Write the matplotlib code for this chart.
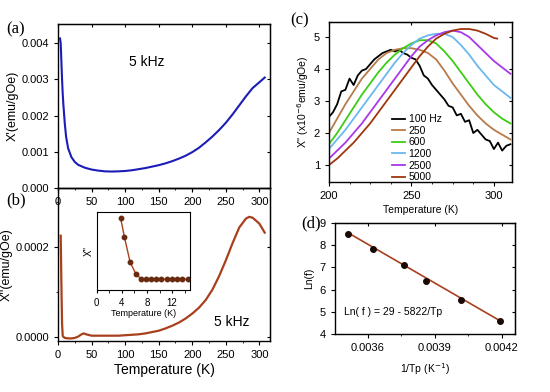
import numpy as np
import matplotlib
matplotlib.use("Agg")
import matplotlib.pyplot as plt
from matplotlib.ticker import AutoMinorLocator, FormatStrFormatter

plt.rcParams['font.family'] = ['Liberation Sans', 'DejaVu Sans']

# (a) real part, 5 kHz
temp_a = [3, 4, 5, 6, 7, 8, 10, 12, 15, 20, 25, 30, 40, 50, 60, 70, 80, 90, 100,
          110, 120, 130, 140, 150, 160, 170, 180, 190, 200, 210, 220, 230, 240,
          250, 260, 270, 280, 290, 300, 308]
chi_real = [0.00413, 0.0040, 0.0035, 0.0030, 0.0026, 0.0023, 0.0018, 0.00142, 0.00110,
            0.00085, 0.00072, 0.00064, 0.00056, 0.00051, 0.00048, 0.00046, 0.000455,
            0.00046, 0.00047, 0.00049, 0.00052, 0.00055, 0.00059, 0.00063, 0.00068,
            0.00074, 0.00081, 0.00089, 0.00099, 0.00111, 0.00126, 0.00142, 0.00160,
            0.00180, 0.00203, 0.00228, 0.00253, 0.00276, 0.00292, 0.00305]

# (b) imaginary part, 5 kHz
temp_b = [4, 5, 6, 7, 10, 15, 20, 25, 30, 35, 38, 42, 50, 60, 70, 80, 90, 100, 110,
          120, 130, 140, 150, 160, 170, 180, 190, 200, 210, 220, 230, 240, 250, 260,
          270, 280, 285, 290, 300, 308]
chi_imag = [0.000225, 0.00012, 0.00003, 0.000002, -0.000002, -0.000003, -0.000003,
            -0.000002, 0.000001, 0.000006, 0.000008, 0.000006, 0.000003, 0.000003,
            0.000003, 0.000003, 0.000003, 0.000004, 0.000005, 0.000006, 0.000008,
            0.000011, 0.000014, 0.000019, 0.000025, 0.000032, 0.000041, 0.000052,
            0.000065, 0.000082, 0.000105, 0.000135, 0.000170, 0.000208, 0.000243,
            0.000263, 0.000267, 0.000265, 0.000252, 0.000232]

# inset of (b), arbitrary units
temp_in = [3.8, 4.4, 5.3, 6.2, 7.1, 7.9, 8.7, 9.5, 10.3, 11.1, 11.9, 12.8, 13.6, 14.5]
chi_in = [0.92, 0.68, 0.36, 0.21, 0.14, 0.14, 0.14, 0.14, 0.14, 0.14, 0.14, 0.14, 0.14, 0.14]

# (c) chi'' at several frequencies
temp_c_fine = [200, 202.5, 205, 207.5, 210, 212.5, 215, 217.5, 220, 222.5, 225, 227.5,
               230, 232.5, 235, 237.5, 240, 242.5, 245, 247.5, 250, 252.5, 255, 257.5,
               260, 262.5, 265, 267.5, 270, 272.5, 275, 277.5, 280, 282.5, 285, 287.5,
               290, 292.5, 295, 297.5, 300, 302.5, 305, 307.5, 310]
chi_100 = [2.5, 2.65, 2.9, 3.3, 3.35, 3.7, 3.5, 3.8, 3.95, 4.0, 4.15, 4.3, 4.4, 4.5, 4.55,
           4.6, 4.55, 4.6, 4.5, 4.45, 4.35, 4.3, 4.1, 3.8, 3.7, 3.5, 3.35, 3.2, 3.05, 2.85,
           2.8, 2.55, 2.6, 2.35, 2.4, 2.0, 2.1, 1.95, 1.8, 1.75, 1.5, 1.7, 1.45, 1.6, 1.65]
temp_c = [200, 205, 210, 215, 220, 225, 230, 235, 240, 245, 250, 255, 260, 265, 270,
          275, 280, 285, 290, 295, 300, 305, 310]
chi_250 = [2.0, 2.45, 2.9, 3.3, 3.7, 4.0, 4.3, 4.5, 4.6, 4.65, 4.65, 4.6, 4.5, 4.3, 3.95,
           3.55, 3.2, 2.85, 2.55, 2.3, 2.1, 1.95, 1.8]
chi_600 = [1.65, 2.0, 2.4, 2.8, 3.2, 3.55, 3.9, 4.2, 4.45, 4.65, 4.8, 4.9, 4.9, 4.8, 4.55,
           4.25, 3.9, 3.55, 3.2, 2.9, 2.65, 2.45, 2.3]
chi_1200 = [1.5, 1.8, 2.1, 2.45, 2.8, 3.15, 3.5, 3.85, 4.2, 4.5, 4.75, 4.95, 5.05, 5.1,
            5.1, 5.0, 4.75, 4.45, 4.1, 3.8, 3.5, 3.3, 3.1]
chi_2500 = [1.2, 1.45, 1.7, 2.0, 2.3, 2.65, 3.0, 3.35, 3.7, 4.05, 4.4, 4.7, 4.9, 5.05,
            5.15, 5.2, 5.15, 5.0, 4.75, 4.5, 4.25, 4.05, 3.85]
temp_5000 = [200, 205, 210, 215, 220, 225, 230, 235, 240, 245, 250, 255, 260, 265, 270,
             275, 280, 285, 290, 295, 300, 302]
chi_5000 = [1.0, 1.2, 1.45, 1.7, 2.0, 2.3, 2.65, 3.0, 3.35, 3.7, 4.05, 4.4, 4.7, 4.95,
            5.1, 5.2, 5.25, 5.25, 5.2, 5.1, 4.97, 4.95]

# (d) Arrhenius plot
tp = [285, 276, 266, 259, 249, 238.5]
freq = [5000, 2500, 1200, 600, 250, 100]
fit_a, fit_b = 29, -5822

brown = '#a8401e'

fig = plt.figure(figsize=(5.5, 3.92), dpi=100)


def style(ax, size=8):
    ax.tick_params(which='both', direction='out', labelsize=size, top=False, right=False)
    ax.tick_params(which='major', length=3)
    ax.tick_params(which='minor', length=1.5)
    sx = ax.secondary_xaxis('top')
    sy = ax.secondary_yaxis('right')
    for s, ax_ in ((sx, ax.xaxis), (sy, ax.yaxis)):
        s.set_ticks(ax_.get_majorticklocs())
        s.tick_params(which='both', direction='in', length=2.5, labeltop=False,
                      labelright=False, labelbottom=False, labelleft=False)
    for sp in ax.spines.values():
        sp.set_linewidth(1.0)


# (a)
ax_a = fig.add_axes([0.1055, 0.5204, 0.3855, 0.4184])
ax_a.plot(temp_a, chi_real, color='#1c1cb8', lw=1.5)
ax_a.set_xlim(0, 316)
ax_a.set_ylim(0, 0.00453)
ax_a.set_xticks([0, 50, 100, 150, 200, 250, 300])
ax_a.set_yticks([0, 0.001, 0.002, 0.003, 0.004])
ax_a.yaxis.set_major_formatter(FormatStrFormatter('%.3f'))
ax_a.xaxis.set_minor_locator(AutoMinorLocator(2))
ax_a.set_ylabel("X'(emu/gOe)", fontsize=9, labelpad=2)
ax_a.text(0.42, 0.77, '5 kHz', transform=ax_a.transAxes, ha='center', va='center', fontsize=10)
style(ax_a)

# (b)
ax_b = fig.add_axes([0.1055, 0.130, 0.3855, 0.3904])
ax_b.patch.set_visible(False)
ax_b.plot(temp_b, chi_imag, color=brown, lw=1.6)
ax_b.set_xlim(0, 316)
ax_b.set_ylim(-0.0000089, 0.000331)
ax_b.set_xticks([0, 50, 100, 150, 200, 250, 300])
ax_b.set_yticks([0, 0.0002])
ax_b.set_yticks([0.0001, 0.0003], minor=True)
ax_b.yaxis.set_major_formatter(FormatStrFormatter('%.4f'))
ax_b.xaxis.set_minor_locator(AutoMinorLocator(2))
ax_b.set_ylabel("X''(emu/gOe)", fontsize=9, labelpad=2)
ax_b.set_xlabel('Temperature (K)', fontsize=10, labelpad=2)
ax_b.text(0.82, 0.124, '5 kHz', transform=ax_b.transAxes, ha='center', va='center', fontsize=10)
style(ax_b)

# inset
ax_in = fig.add_axes([0.176, 0.260, 0.169, 0.199])
ax_in.plot(temp_in, chi_in, color=brown, lw=1.0, marker='o', ms=3.2,
           mfc='#6a2a10', mec='#6a2a10')
ax_in.set_xlim(0, 14.8)
ax_in.set_ylim(0, 1)
ax_in.set_xticks([0, 4, 8, 12])
ax_in.xaxis.set_minor_locator(AutoMinorLocator(2))
ax_in.set_yticks([])
ax_in.tick_params(which='both', direction='out', labelsize=7, length=2)
ax_in.set_ylabel("X''", fontsize=7, labelpad=2)
ax_in.set_xlabel('Temperature (K)', fontsize=6.5, labelpad=1)

# (c)
ax_c = fig.add_axes([0.598, 0.5357, 0.333, 0.4083])
ax_c.plot(temp_c_fine, chi_100, color='black', lw=1.3, label='100 Hz')
ax_c.plot(temp_c, chi_250, color='#b87a48', lw=1.3, label='250')
ax_c.plot(temp_c, chi_600, color='#3ccc14', lw=1.3, label='600')
ax_c.plot(temp_c, chi_1200, color='#6ab8f0', lw=1.3, label='1200')
ax_c.plot(temp_c, chi_2500, color='#a838e8', lw=1.3, label='2500')
ax_c.plot(temp_5000, chi_5000, color='#a0360e', lw=1.3, label='5000')
ax_c.set_xlim(200, 311)
ax_c.set_ylim(0.47, 5.47)
ax_c.set_xticks([200, 250, 300])
ax_c.set_yticks([1, 2, 3, 4, 5])
ax_c.xaxis.set_minor_locator(AutoMinorLocator(4))
ax_c.set_xlabel('Temperature (K)', fontsize=7.5, labelpad=3)
ax_c.set_ylabel("X'' (x10$^{-6}$emu/gOe)", fontsize=7.5, labelpad=2)
ax_c.legend(loc='lower left', bbox_to_anchor=(0.31, -0.04), frameon=False, fontsize=7.5,
            handlelength=1.3, handletextpad=0.3, labelspacing=0.15, borderaxespad=0.2)
style(ax_c)

# (d)
inv_tp = 1.0 / np.array(tp)
ln_f = np.log(freq)
ax_d = fig.add_axes([0.609, 0.148, 0.327, 0.283])
ax_d.plot(inv_tp, fit_a + fit_b * inv_tp, color=brown, lw=1.2)
ax_d.plot(inv_tp, ln_f, 'o', color='#1a0a05', ms=4)
ax_d.set_xlim(0.003452, 0.004258)
ax_d.set_ylim(4, 9)
ax_d.set_xticks([0.0036, 0.0039, 0.0042])
ax_d.xaxis.set_major_formatter(FormatStrFormatter('%.4f'))
ax_d.set_xticks([0.00375, 0.00405], minor=True)
ax_d.set_yticks([4, 5, 6, 7, 8, 9])
ax_d.set_xlabel('1/Tp (K$^{-1}$)', fontsize=7.5, labelpad=6)
ax_d.set_ylabel('Ln(f)', fontsize=7.5, labelpad=4)
ax_d.text(0.05, 0.2, 'Ln( f ) = 29 - 5822/Tp', transform=ax_d.transAxes, fontsize=7.5,
          va='center')
style(ax_d)

# panel labels
for x, y, s in ((0.012, 0.925, '(a)'), (0.012, 0.49, '(b)'),
                (0.528, 0.948, '(c)'), (0.548, 0.43, '(d)')):
    fig.text(x, y, s, fontsize=12, family='Liberation Serif', va='center')

fig.savefig('out.png', dpi=100)
